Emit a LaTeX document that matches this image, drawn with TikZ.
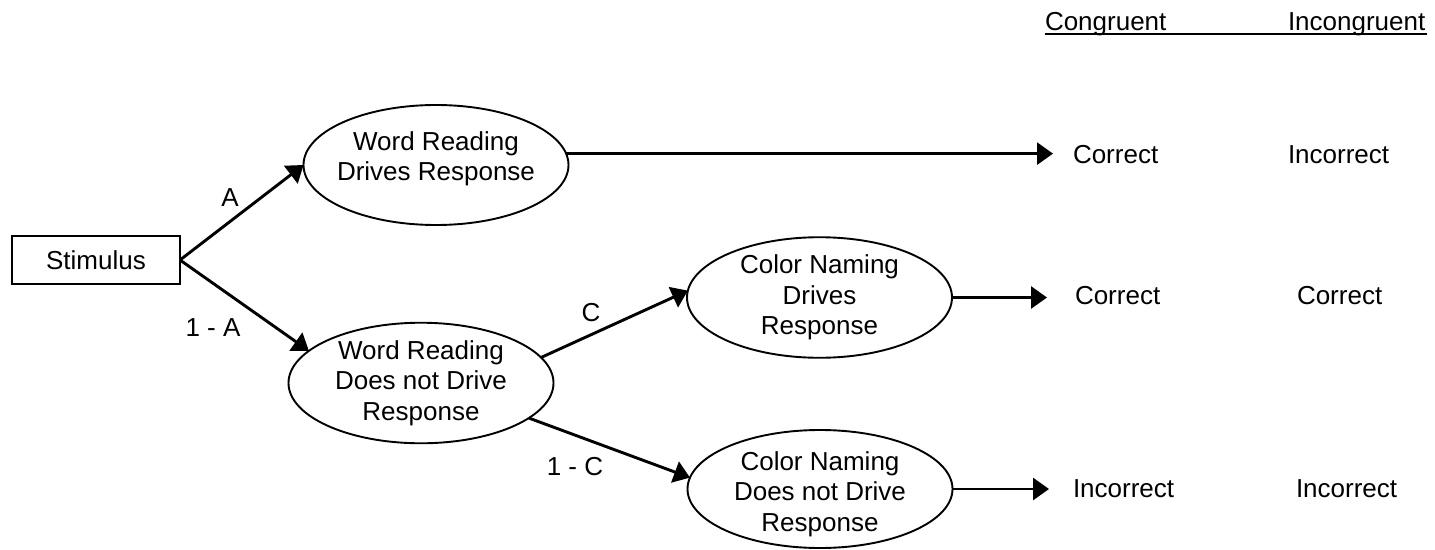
\documentclass[tikz,border=0pt]{standalone}
\usepackage{fontspec}
\setmainfont{Liberation Sans}
\usetikzlibrary{arrows.meta,shapes.geometric}
\begin{document}
\begin{tikzpicture}[x=1pt,y=-1pt,
  every node/.style={font=\fontsize{26}{30.5}\selectfont, inner sep=0pt, outer sep=0pt},
  oval/.style={ellipse, draw, line width=1.9pt, minimum width=265pt, minimum height=120pt, align=center},
  ovaltext/.style={align=center},
  box/.style={rectangle, draw, line width=1.9pt, minimum width=168pt, minimum height=48pt},
  arr/.style={line width=2.9pt, -{Triangle[length=16pt,width=22pt]}},
  lbl/.style={anchor=center},
  res/.style={anchor=base west}]
\useasboundingbox (0,0) rectangle (1435,549);

% header
\node[res] (hc) at (1045,30) {Congruent};
\node[res] (hi) at (1288,30) {Incongruent};
\coordinate (ul1) at (1045,34);
\coordinate (ul2) at (1427,34);
\draw[line width=1.5pt] (ul1) -- (ul2);

% nodes
\node[box] (stim) at (96,260) {Stimulus};
\node[oval] (wr1) at (436,165) {};
\node[ovaltext] (wr1t) at (436,159) {Word Reading\\Drives Response};
\node[oval] (wr2) at (421,383) {Word Reading\\Does not Drive\\Response};
\node[oval] (cn1) at (819.5,297.5) {Color Naming\\Drives\\Response};
\node[oval, minimum height=118pt] (cn2) at (820,489) {};
\node[ovaltext] (cn2t) at (820,494) {Color Naming\\Does not Drive\\Response};

% outcome texts
\node[res] (r1a) at (1073,163) {Correct};
\node[res] (r1b) at (1288,163) {Incorrect};
\node[res] (r2a) at (1075,304) {Correct};
\node[res] (r2b) at (1297,304) {Correct};
\node[res] (r3a) at (1073,497) {Incorrect};
\node[res] (r3b) at (1296,497) {Incorrect};

% arrow end points
\coordinate (e1) at (1053,153);
\coordinate (e2) at (1047,295.5);
\coordinate (e3) at (1049,487);

% connectors
\draw[arr] (stim.east) -- (wr1.180);
\draw[arr] (stim.east) -- (wr2.164);
\draw[arr] (wr2.12) -- (cn1.177);
\draw[arr] (wr2.342) -- (cn2.175);
\draw[arr] (wr1.5) -- (wr1.5 -| e1);
\draw[arr] (cn1.east) -- (cn1.east -| e2);
\draw[arr] (cn2.east) -- (cn2.east -| e3);

% branch labels
\node[lbl] (la) at (230,198) {A};
\node[lbl] (l1a) at (213,328) {1 - A};
\node[lbl] (lc) at (591,313) {C};
\node[lbl] (l1c) at (575,467) {1 - C};
\end{tikzpicture}
\end{document}
